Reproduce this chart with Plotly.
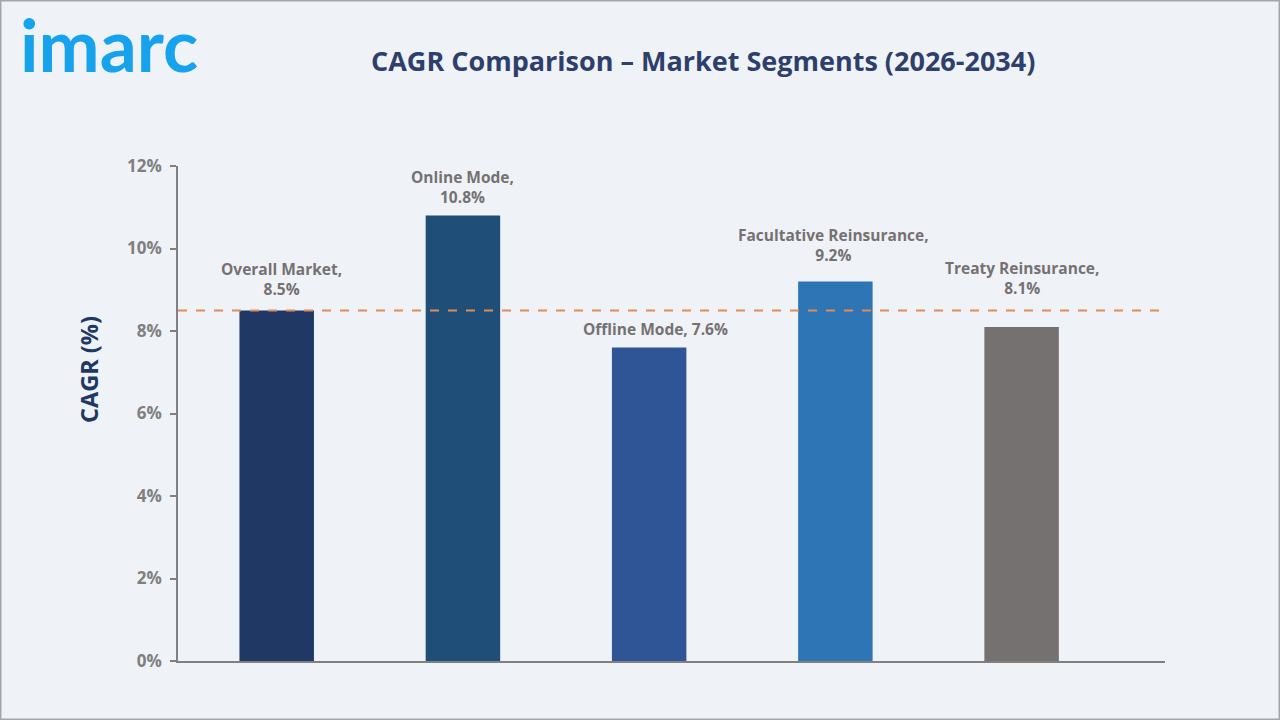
import plotly.graph_objects as go

categories = ["Overall Market", "Online Mode", "Offline Mode", "Facultative Reinsurance", "Treaty Reinsurance"]
cagr = [8.5, 10.8, 7.6, 9.2, 8.1]
label_texts = ["Overall Market,<br>8.5%", "Online Mode,<br>10.8%", "Offline Mode, 7.6%",
               "Facultative Reinsurance,<br>9.2%", "Treaty Reinsurance,<br>8.1%"]
bar_colors = ["#203864", "#1F4E79", "#2F5597", "#2E75B6", "#767171"]
label_yshift = [8, 6, 6, 14, 26]
label_xshift = [5, 0, 6, -2, 0]
reference_value = 8.5
y_ticks = [0, 2, 4, 6, 8, 10, 12]
y_tick_labels = ["0%", "2%", "4%", "6%", "8%", "10%", "12%"]

FONT = "Open Sans"
W, H = 1280, 720
L, R, T, B = 178, 115, 166, 59
PW, PH = W - L - R, H - T - B


def px(x):
    return (x - L) / PW


def py(y):
    return (H - B - y) / PH


xs = list(range(len(categories)))

fig = go.Figure()
fig.add_trace(go.Bar(
    x=xs, y=cagr, marker=dict(color=bar_colors, line=dict(width=0)),
    width=0.4, hoverinfo="skip", showlegend=False,
))

for i, (v, t) in enumerate(zip(cagr, label_texts)):
    fig.add_annotation(
        x=i, y=v, text=t, showarrow=False, yanchor="bottom", xanchor="center",
        yshift=label_yshift[i], xshift=label_xshift[i],
        font=dict(family=FONT, size=15.5, color="#767171", weight="bold"),
        align="center",
    )

fig.add_shape(type="line", xref="paper", yref="y", x0=0, x1=1,
              y0=reference_value, y1=reference_value,
              line=dict(color="#E08C55", width=2, dash="dash"))

# title
fig.add_annotation(xref="paper", yref="paper", x=px(703), y=py(61), xanchor="center", yanchor="middle",
                   text="CAGR Comparison – Market Segments (2026-2034)", showarrow=False,
                   font=dict(family=FONT, size=27, color="#2F3F6B", weight="bold"))
# logo
fig.add_annotation(xref="paper", yref="paper", x=px(18), y=py(44), xanchor="left", yanchor="middle",
                   text="imarc", showarrow=False,
                   font=dict(family="Lato", size=73, color="#17A2EE", weight="bold"))
# y axis title
fig.add_annotation(xref="paper", yref="paper", x=px(89), y=py(370), xanchor="center", yanchor="middle",
                   text="CAGR (%)", showarrow=False, textangle=-90,
                   font=dict(family=FONT, size=23.5, color="#203864", weight="bold"))
# border
fig.add_shape(type="rect", xref="paper", yref="paper", x0=px(0), x1=px(W),
              y0=py(H), y1=py(0), line=dict(color="#A6A6A6", width=3), layer="above")

fig.update_layout(
    width=W, height=H,
    margin=dict(l=L, r=R, t=T, b=B),
    paper_bgcolor="#EFF3F8", plot_bgcolor="#EFF3F8",
    xaxis=dict(range=[-0.53, 4.77], showticklabels=False, showgrid=False, zeroline=False,
               showline=True, linecolor="#808080", linewidth=1.5, ticks=""),
    yaxis=dict(range=[0, 12], tickvals=y_ticks, ticktext=y_tick_labels, showgrid=False,
               zeroline=False, showline=True, linecolor="#808080", linewidth=1.5,
               ticks="outside", ticklen=6, tickcolor="#808080", tickwidth=1.5,
               ticklabelstandoff=5,
               tickfont=dict(family=FONT, size=17, color="#7F7F7F", weight="bold")),
)

fig.write_html("out.html")
